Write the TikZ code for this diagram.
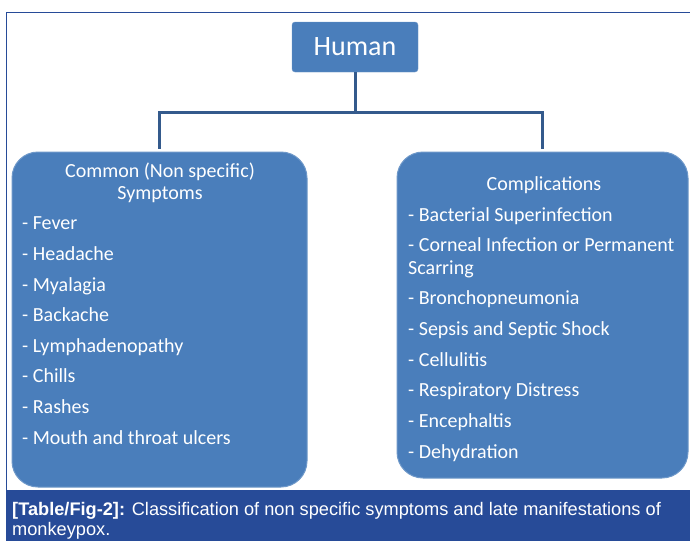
\documentclass[tikz,border=0pt]{standalone}
\usepackage{fontspec}
\setmainfont{Carlito}
\newfontfamily\capfont{Liberation Sans}
\begin{document}
\begin{tikzpicture}[x=1pt,y=-1pt,font=\fontsize{20}{24}\selectfont]
\definecolor{boxblue}{RGB}{74,126,187}
\definecolor{linkblue}{RGB}{52,90,140}
\definecolor{capblue}{RGB}{39,75,152}
\tikzset{catbox/.style={fill=boxblue,draw=boxblue!80!white,line width=1pt,rounded corners=26pt,inner sep=0pt},
  item/.style={anchor=base west,text=white,inner sep=0pt},
  head/.style={anchor=base,text=white,inner sep=0pt},
  link/.style={draw=linkblue,line width=3pt}}
\useasboundingbox (0,0) rectangle (690,541);
\fill[white] (0,0) rectangle (690,541);
\draw[capblue,line width=1.2pt] (6.5,490) -- (6.5,12.5) -- (690,12.5);
\node[fill=boxblue,draw=boxblue!80!white,rounded corners=3pt,minimum width=126pt,minimum height=50pt,text=white,font=\fontsize{28}{32}\selectfont] (human) at (355,47) {Human};
\node[catbox,minimum width=295pt,minimum height=335pt] (common) at (159.5,319.5) {};
\node[catbox,minimum width=291pt,minimum height=326pt] (compl) at (542.5,315) {};
\draw[link] (human.south) -- ++(0,40) coordinate (split) -| ([yshift=3pt]common.north);
\draw[link] (split) -| ([yshift=3pt]compl.north);
\node[head] (commonA) at (160,177) {Common (Non specific)};
\node[head] (commonB) at (160,199) {Symptoms};
\node[item] (fever) at (22,229) {- Fever};
\node[item] (headache) at (22,260) {- Headache};
\node[item] (myalagia) at (22,291) {- Myalagia};
\node[item] (backache) at (22,321) {- Backache};
\node[item] (lymph) at (22,352) {- Lymphadenopathy};
\node[item] (chills) at (22,382) {- Chills};
\node[item] (rashes) at (22,413) {- Rashes};
\node[item] (ulcers) at (22,444) {- Mouth and throat ulcers};
\node[head] (complA) at (544,190) {Complications};
\node[item] (bacterial) at (408,221) {- Bacterial Superinfection};
\node[item] (corneal) at (408,251) {- Corneal Infection or Permanent};
\node[item] (scarring) at (408,274) {Scarring};
\node[item] (broncho) at (408,304) {- Bronchopneumonia};
\node[item] (sepsis) at (408,335) {- Sepsis and Septic Shock};
\node[item] (cellulitis) at (408,366) {- Cellulitis};
\node[item] (respiratory) at (408,396) {- Respiratory Distress};
\node[item] (encephaltis) at (408,427) {- Encephaltis};
\node[item] (dehydration) at (408,458) {- Dehydration};
\fill[capblue] (6,490) rectangle (690,541);
\node[item,font=\capfont\fontsize{18.2}{21}\selectfont] (capA) at (12,515) {\textbf{[Table/Fig-2]:} Classification of non specific symptoms and late manifestations of};
\node[item,font=\capfont\fontsize{18.2}{21}\selectfont] (capB) at (12,535) {monkeypox.};
\end{tikzpicture}
\end{document}
